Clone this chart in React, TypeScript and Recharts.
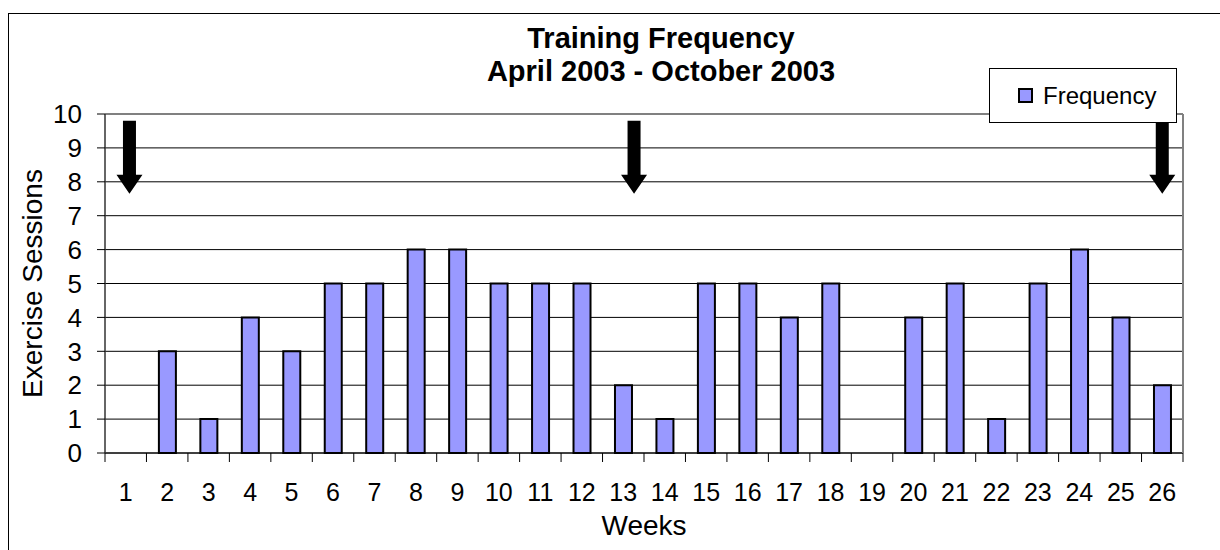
import React from "react";
import {
  BarChart, Bar, XAxis, YAxis, CartesianGrid, Legend, ReferenceLine, ReferenceDot,
} from "recharts";

const WEEKS = [
  "1", "2", "3", "4", "5", "6", "7", "8", "9", "10", "11", "12", "13",
  "14", "15", "16", "17", "18", "19", "20", "21", "22", "23", "24", "25", "26",
];
const SESSIONS = [0, 3, 1, 4, 3, 5, 5, 6, 6, 5, 5, 5, 2, 1, 5, 5, 4, 5, 0, 4, 5, 1, 5, 6, 4, 2];
const Y_TICKS = [0, 1, 2, 3, 4, 5, 6, 7, 8, 9, 10];
// arrow markers: the week they point at, a small nudge (fraction of a week) and top value
const ARROW_WEEKS = ["1", "13", "26"];
const ARROW_NUDGE = [0.09, 0.26, 0];
const ARROW_TOP = 9.8;

const data = WEEKS.map((w, i) => ({ week: w, sessions: SESSIONS[i] }));

const FONT = '"Liberation Sans", Arial, sans-serif';
const BAR_FILL = "#9999FF";
const W = 1205, H = 535;
const M = { top: 100, right: 0, bottom: 0, left: 0 };
const Y_W = 96, R_W = 31;
const BAND = (W - Y_W - R_W) / WEEKS.length;

const makeArrow = (nudge: number) => (props: any) => {
  const { cy } = props;
  if (props.cx == null || cy == null) return null;
  const cx = props.cx + nudge * BAND;
  const shaft = 54, head = 19, sw = 6.5, hw = 13;
  const pts = [
    [cx - sw, cy], [cx + sw, cy], [cx + sw, cy + shaft], [cx + hw, cy + shaft],
    [cx, cy + shaft + head], [cx - hw, cy + shaft], [cx - sw, cy + shaft],
  ].map((p) => p.join(",")).join(" ");
  return <polygon points={pts} fill="#000" />;
};

// week label at the band centre, tick marks on the band edges
const WeekTick = (props: any) => {
  const { x, y, payload, index } = props;
  const half = payload?.offset || BAND / 2;
  const last = index === WEEKS.length - 1;
  return (
    <g>
      <line x1={x - half} y1={y} x2={x - half} y2={y + 9} stroke="#000" />
      {last && <line x1={x + half} y1={y} x2={x + half} y2={y + 9} stroke="#000" />}
      <text x={x} y={y + 48} textAnchor="middle" fontFamily={FONT} fontSize={25} fill="#000">
        {payload.value}
      </text>
    </g>
  );
};

const LegendBox = () => (
  <div style={{
    width: 188, height: 55, boxSizing: "border-box", border: "1px solid #000", background: "#fff",
    display: "flex", alignItems: "center", paddingLeft: 28, fontFamily: FONT, fontSize: 24, color: "#000",
  }}>
    <span style={{ display: "inline-block", width: 15, height: 15, boxSizing: "border-box",
      background: BAR_FILL, border: "2px solid #000", marginRight: 10 }} />
    Frequency
  </div>
);

export default function App() {
  return (
    <div style={{
      position: "absolute", left: 8, top: 13, width: 1215, height: 545,
      border: "1px solid #000", boxSizing: "border-box", background: "#fff",
    }}>
      <div style={{
        position: "absolute", left: 0, top: 7.5, width: 1304, textAlign: "center",
        fontFamily: FONT, fontSize: 29, fontWeight: "bold", lineHeight: "33px", color: "#000", zIndex: 2,
      }}>
        Training Frequency<br />April 2003 - October 2003
      </div>
      <BarChart width={W} height={H} data={data} barCategoryGap="30%" margin={M}>
        <CartesianGrid horizontal vertical={false} stroke="#000" />
        <XAxis dataKey="week" height={96} interval={0} tickLine={false} tickSize={0} tickMargin={0}
          axisLine={{ stroke: "#000" }} tick={<WeekTick />}
          label={{
            content: (p: any) => {
              const vb = p.viewBox;
              return (
                <text x={vb.x + vb.width / 2} y={vb.y + 82} textAnchor="middle"
                  fontFamily={FONT} fontSize={28} fill="#000">Weeks</text>
              );
            },
          }} />
        <YAxis type="number" domain={[0, 10]} ticks={Y_TICKS} interval={0} width={Y_W}
          tickSize={8} tickMargin={15} tickLine={{ stroke: "#000" }}
          axisLine={{ stroke: "#333", strokeWidth: 1.5 }}
          tick={{ fill: "#000", fontSize: 26, fontFamily: FONT }}
          label={{
            content: (p: any) => {
              const vb = p.viewBox;
              const x = vb.x + 23, y = vb.y + vb.height / 2;
              return (
                <text x={x} y={y} transform={`rotate(-90 ${x} ${y})`} textAnchor="middle"
                  dominantBaseline="central" fontFamily={FONT} fontSize={28} fill="#000">
                  Exercise Sessions
                </text>
              );
            },
          }} />
        <YAxis yAxisId="r" orientation="right" width={R_W} domain={[0, 10]} tick={false}
          tickLine={false} axisLine={{ stroke: "#808080", strokeWidth: 2 }} />
        <ReferenceLine y={10} stroke="#808080" strokeWidth={2} />
        <Bar dataKey="sessions" name="Frequency" fill={BAR_FILL} stroke="#000" strokeWidth={2}
          isAnimationActive={false} />
        {ARROW_WEEKS.map((w, i) => (
          <ReferenceDot key={w} x={w} y={ARROW_TOP} shape={makeArrow(ARROW_NUDGE[i])} />
        ))}
        <Legend layout="vertical" align="center" verticalAlign="middle" content={LegendBox}
          wrapperStyle={{ left: 980, top: 54, width: 188, height: 55 }} />
      </BarChart>
    </div>
  );
}
